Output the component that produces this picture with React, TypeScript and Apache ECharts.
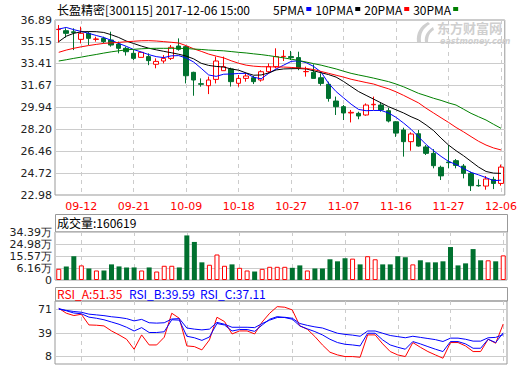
import React, { useEffect, useRef } from "react";
import * as echarts from "echarts";

// ---------- DATA ----------
const dates = [
  "09-07", "09-08", "09-11", "09-12", "09-13", "09-14", "09-15", "09-18", "09-19", "09-20",
  "09-21", "09-22", "09-25", "09-26", "09-27", "09-28", "09-29", "10-09", "10-10", "10-11",
  "10-12", "10-13", "10-16", "10-17", "10-18", "10-19", "10-20", "10-23", "10-24", "10-25",
  "10-26", "10-27", "10-30", "10-31", "11-01", "11-02", "11-03", "11-06", "11-07", "11-08",
  "11-09", "11-10", "11-13", "11-14", "11-15", "11-16", "11-17", "11-20", "11-21", "11-22",
  "11-23", "11-24", "11-27", "11-28", "11-29", "11-30", "12-01", "12-04", "12-05", "12-06",
];
const labelDates = ["09-12", "09-21", "10-09", "10-18", "10-27", "11-07", "11-16", "11-27", "12-06"];

const opens = [
  36.13, 36.04, 35.95, 35.35, 35.83, 35.35, 35.43, 35.3, 34.98, 34.64,
  34.24, 33.92, 33.98, 33.37, 33.63, 33.84, 34.82, 34.77, 32.73, 31.83,
  31.67, 32.17, 32.86, 33.0, 31.86, 32.25, 32.3, 32.12, 32.78, 33.18,
  33.98, 33.98, 33.9, 32.78, 32.73, 32.3, 31.78, 30.45, 30.0, 29.5,
  29.47, 29.34, 30.15, 30.13, 29.68, 28.8, 28.15, 27.22, 27.85, 26.8,
  26.29, 25.18, 25.6, 25.71, 25.28, 24.7, 23.74, 23.69, 24.22, 23.9,
];
const closes = [
  36.15, 35.83, 35.9, 35.83, 35.43, 35.38, 35.17, 34.9, 34.64, 34.37,
  33.84, 34.32, 33.66, 33.6, 33.84, 34.72, 34.56, 32.46, 32.12, 31.78,
  32.12, 33.63, 33.18, 31.99, 32.25, 32.44, 31.99, 32.78, 33.18, 33.98,
  34.0, 33.9, 33.05, 32.8, 32.25, 31.85, 30.66, 30.0, 29.5, 29.55,
  29.26, 30.13, 30.19, 29.74, 28.86, 27.9, 27.22, 27.83, 26.87, 26.29,
  25.31, 24.5, 25.55, 25.33, 24.7, 23.72, 23.71, 24.25, 23.9, 25.2,
];
const lows = [
  35.1, 35.5, 34.5, 35.03, 34.9, 35.17, 35.03, 34.77, 34.24, 34.06,
  33.71, 33.9, 33.3, 33.05, 33.44, 33.71, 34.45, 31.85, 30.87, 31.59,
  31.0, 31.85, 32.84, 31.6, 31.59, 31.99, 31.8, 31.99, 32.65, 33.05,
  33.63, 33.71, 32.9, 32.39, 32.25, 31.67, 30.4, 29.34, 28.94, 28.75,
  29.0, 29.28, 29.74, 29.6, 28.75, 27.6, 26.03, 26.5, 26.82, 26.16,
  25.1, 24.17, 25.1, 25.1, 24.3, 23.3, 23.64, 23.4, 23.45, 23.72,
];
const highs = [
  36.49, 36.23, 36.23, 36.36, 35.96, 35.56, 35.56, 35.96, 35.17, 34.77,
  34.5, 34.37, 34.24, 33.84, 34.1, 34.9, 35.43, 34.82, 32.78, 32.25,
  32.39, 33.98, 33.98, 33.1, 32.52, 32.65, 32.44, 32.9, 33.44, 34.64,
  34.5, 34.43, 34.37, 33.18, 33.37, 32.65, 31.99, 30.8, 30.13, 29.74,
  29.6, 30.26, 30.8, 30.34, 29.92, 28.86, 28.33, 27.96, 28.15, 26.95,
  26.63, 25.31, 26.95, 25.84, 25.44, 24.83, 24.22, 24.49, 24.43, 25.4,
];

const ma5 = [
  36.17, 36.3, 36.12, 35.98, 35.83, 35.66, 35.5, 35.28, 35.03, 34.8,
  34.54, 34.35, 34.14, 33.98, 33.9, 34.04, 34.06, 33.87, 33.55, 33.05,
  32.52, 32.41, 32.58, 32.6, 32.64, 32.65, 32.34, 32.22, 32.65, 33.0,
  33.3, 33.6, 33.65, 33.5, 33.2, 32.75, 31.85, 31.2, 30.7, 30.2,
  29.78, 29.68, 29.7, 29.7, 29.5, 29.15, 28.7, 28.2, 27.6, 27.0,
  26.5, 26.05, 25.65, 25.4, 25.08, 24.78, 24.58, 24.36, 24.12, 24.16,
];
const ma10 = [
  35.17, 35.6, 35.83, 35.95, 35.97, 35.96, 35.9, 35.72, 35.5, 35.22,
  35.02, 34.82, 34.65, 34.52, 34.4, 34.29, 34.17, 34.02, 33.8, 33.45,
  33.28, 33.2, 33.15, 33.0, 32.9, 32.68, 32.5, 32.52, 32.68, 32.92,
  33.0, 33.02, 33.03, 33.0, 32.85, 32.7, 32.55, 32.35, 32.0, 31.6,
  31.2, 30.9, 30.6, 30.3, 30.0, 29.75, 29.5, 29.2, 28.95, 28.55,
  28.1, 27.5, 26.95, 26.5, 26.1, 25.65, 25.2, 24.85, 24.72, 24.7,
];
const ma20 = [
  34.32, 34.5, 34.64, 34.76, 34.86, 34.95, 35.03, 35.07, 35.11, 35.16,
  35.2, 35.24, 35.25, 35.22, 35.17, 35.12, 35.06, 34.85, 34.6, 34.4,
  34.18, 34.02, 33.88, 33.65, 33.45, 33.3, 33.22, 33.18, 33.17, 33.16,
  33.15, 33.12, 33.08, 33.04, 32.95, 32.8, 32.65, 32.5, 32.35, 32.18,
  32.05, 31.92, 31.8, 31.6, 31.42, 31.18, 30.9, 30.6, 30.3, 29.88,
  29.5, 29.12, 28.75, 28.35, 28.0, 27.62, 27.25, 26.95, 26.72, 26.56,
];
const ma30 = [
  33.63, 33.73, 33.84, 33.94, 34.05, 34.15, 34.26, 34.36, 34.44, 34.52,
  34.56, 34.6, 34.63, 34.64, 34.64, 34.64, 34.64, 34.62, 34.58, 34.55,
  34.5, 34.47, 34.44, 34.38, 34.32, 34.27, 34.2, 34.14, 34.06, 33.97,
  33.88, 33.78, 33.67, 33.55, 33.42, 33.3, 33.15, 33.0, 32.82, 32.65,
  32.52, 32.4, 32.27, 32.13, 31.99, 31.8, 31.58, 31.32, 31.06, 30.87,
  30.67, 30.5, 30.3, 30.13, 29.8, 29.47, 29.2, 28.94, 28.6, 28.28,
];

// volume in 万 (10k shares)
const volumes = [
  5.54, 7.41, 15.4, 8.2, 5.8, 4.2, 4.2, 9.0, 7.4, 6.6,
  6.6, 4.2, 6.6, 3.4, 7.9, 7.9, 6.6, 31.7, 26.6, 10.6,
  8.7, 16.75, 7.9, 9.0, 6.3, 4.2, 3.4, 5.5, 7.1, 7.1,
  7.1, 6.3, 8.2, 4.2, 5.8, 5.8, 13.0, 11.4, 13.8, 13.5,
  9.0, 15.4, 13.0, 9.0, 9.0, 15.4, 14.6, 9.0, 12.2, 10.6,
  10.6, 11.4, 22.6, 8.2, 9.8, 21.0, 12.2, 12.2, 11.4, 16.0619,
];
const lastVolume = 160619;

const rsiA = [
  72.3, 65.7, 62.6, 64.3, 50.1, 49.7, 48.8, 42.1, 36.8, 31.0,
  17.7, 36.8, 23.4, 23.4, 33.7, 65.7, 59.0, 22.1, 21.2, 16.8,
  30.1, 60.3, 54.6, 38.1, 42.1, 42.1, 38.1, 54.0, 65.7, 74.5,
  73.7, 70.1, 48.8, 44.3, 34.6, 23.4, 13.7, 10.1, 7.9, 7.9,
  7.0, 36.8, 36.8, 24.8, 14.6, 10.1, 7.9, 26.6, 20.3, 14.6,
  10.1, 5.7, 26.6, 26.6, 22.1, 14.6, 14.6, 31.0, 25.7, 51.35,
];
const rsiB = [
  72.0, 69.0, 66.0, 65.0, 60.5, 59.0, 57.0, 54.0, 51.0, 47.0,
  42.0, 46.5, 40.0, 40.0, 41.0, 57.0, 56.5, 35.0, 33.0, 29.5,
  34.0, 52.0, 50.0, 42.0, 44.0, 44.0, 41.5, 50.0, 57.7, 61.2,
  59.9, 57.7, 48.8, 44.8, 41.2, 36.8, 31.0, 26.6, 24.3, 23.4,
  22.1, 39.0, 39.0, 30.1, 23.4, 20.3, 17.7, 27.9, 24.8, 21.2,
  17.7, 14.6, 27.9, 27.9, 24.8, 19.0, 19.0, 31.0, 26.6, 39.59,
];
const rsiC = [
  71.0, 69.5, 68.0, 67.0, 64.5, 63.5, 62.5, 61.0, 60.0, 58.5,
  55.5, 57.5, 53.0, 52.5, 53.0, 58.0, 58.5, 46.0, 44.5, 43.5,
  44.5, 53.5, 51.0, 47.0, 47.0, 47.0, 46.5, 52.0, 56.5, 60.0,
  60.3, 59.0, 52.0, 49.5, 47.5, 46.0, 42.5, 39.0, 37.5, 36.5,
  35.0, 42.0, 42.0, 39.0, 36.0, 34.5, 33.0, 35.0, 33.5, 32.0,
  30.5, 28.0, 32.5, 32.5, 31.0, 28.5, 28.5, 33.0, 33.5, 37.11,
];

const priceTicks = [22.98, 24.72, 26.46, 28.2, 29.94, 31.67, 33.41, 35.15, 36.89];
const volTickLabels = ["0", "6.16万", "15.57万", "24.98万", "34.39万"];
const volAxisMin = -3.25;
const volAxisMax = 34.39;
const volInterval = 9.41;
const rsiTicks = [8, 39, 71];

// ---------- STYLE ----------
const RED = "#ff0000";
const GREEN = "#00712f";
const BLUE = "#0000ff";
const GRID_LINE = "#cccccc";
const BORDER = "#999999";
const CJK = '"Noto Sans CJK SC", sans-serif';
const NUM = '"DejaVu Sans", sans-serif';

echarts.graphic.registerShape(
  "emLogo",
  echarts.graphic.extendPath(
    "M14 0 C6 4 2 11 3 20 L7 20 C6 12 9 6 16 2 Z M19 5 C13 9 10 14 11 20 L14 20 C14 14 16 10 20 8 Z",
    {}
  )
);

function buildOption() {
  const ohlc = dates.map((_, i) => [opens[i], closes[i], lows[i], highs[i]]);
  const isLabel = (_i: number, v: string) => labelDates.indexOf(v) >= 0;
  const xAxis = (gi: number, showLabel: boolean) => ({
    type: "category",
    gridIndex: gi,
    data: dates,
    boundaryGap: true,
    axisLine: { show: false },
    axisTick: { show: false },
    axisLabel: {
      show: showLabel,
      interval: isLabel,
      color: RED,
      fontSize: 11,
      fontFamily: NUM,
      margin: 6,
    },
    splitLine: {
      show: true,
      interval: isLabel,
      alignWithLabel: true,
      lineStyle: { color: GRID_LINE, type: [4, 4], width: 1 },
    },
  });
  const priceLabel = (v: number) => {
    let bi = 0;
    priceTicks.forEach((t, i) => {
      if (Math.abs(t - v) < Math.abs(priceTicks[bi] - v)) bi = i;
    });
    return priceTicks[bi].toFixed(2);
  };
  const volLabel = (v: number) => {
    const idx = Math.round((v - volAxisMin) / volInterval);
    return volTickLabels[Math.max(0, Math.min(volTickLabels.length - 1, idx))];
  };
  const yLabelStyle = { color: "#222", fontSize: 11, fontFamily: NUM, margin: 3 };

  const maSeries = [
    { name: "5PMA", data: ma5, color: BLUE },
    { name: "10PMA", data: ma10, color: "#000000" },
    { name: "20PMA", data: ma20, color: RED },
    { name: "30PMA", data: ma30, color: "#008000" },
  ].map((m) => ({
    name: m.name,
    type: "line",
    xAxisIndex: 0,
    yAxisIndex: 0,
    data: m.data,
    symbol: "none",
    color: m.color,
    lineStyle: { color: m.color, width: 1 },
    z: 3,
  }));

  const rsiSeries = [
    { name: "RSI_A", data: rsiA, color: RED },
    { name: "RSI_B", data: rsiB, color: BLUE },
    { name: "RSI_C", data: rsiC, color: BLUE },
  ].map((r) => ({
    name: r.name,
    type: "line",
    xAxisIndex: 2,
    yAxisIndex: 2,
    data: r.data,
    symbol: "none",
    color: r.color,
    lineStyle: { color: r.color, width: 1 },
  }));

  const volData = volumes.map((v, i) => ({
    value: v,
    itemStyle:
      closes[i] >= opens[i]
        ? { color: "#ffffff", borderColor: RED, borderWidth: 1 }
        : { color: GREEN, borderColor: GREEN, borderWidth: 0 },
  }));

  return {
    animation: false,
    backgroundColor: "#ffffff",
    legend: {
      data: ["5PMA", "10PMA", "20PMA", "30PMA"],
      left: 273,
      top: 3,
      align: "right",
      icon: "rect",
      itemWidth: 5,
      itemHeight: 4,
      itemGap: 4,
      padding: 0,
      selectedMode: false,
      textStyle: { fontSize: 12, fontFamily: CJK, color: "#000", padding: [0, -3, 0, 0] },
    },
    grid: [
      { left: 55, top: 20, width: 452, height: 175, show: true, borderColor: BORDER, borderWidth: 1 },
      { left: 55, top: 232, width: 452, height: 48, show: true, borderColor: BORDER, borderWidth: 1 },
      { left: 55, top: 301, width: 452, height: 63, show: true, borderColor: BORDER, borderWidth: 1 },
    ],
    xAxis: [xAxis(0, true), xAxis(1, false), xAxis(2, false)],
    yAxis: [
      {
        type: "value",
        gridIndex: 0,
        min: priceTicks[0],
        max: priceTicks[priceTicks.length - 1],
        interval: (priceTicks[priceTicks.length - 1] - priceTicks[0]) / (priceTicks.length - 1),
        axisLine: { show: false },
        axisTick: { show: false },
        axisLabel: { ...yLabelStyle, formatter: priceLabel },
        splitLine: { lineStyle: { color: GRID_LINE, width: 1 } },
      },
      {
        type: "value",
        gridIndex: 1,
        min: volAxisMin,
        max: volAxisMax,
        interval: volInterval,
        startValue: volAxisMin,
        axisLine: { show: false },
        axisTick: { show: false },
        axisLabel: { ...yLabelStyle, formatter: volLabel },
        splitLine: { lineStyle: { color: GRID_LINE, width: 1 } },
      },
      {
        type: "value",
        gridIndex: 2,
        min: -2,
        max: 82,
        axisLine: { show: false },
        axisTick: { show: false, customValues: rsiTicks },
        axisLabel: { ...yLabelStyle, customValues: rsiTicks },
        splitLine: { lineStyle: { color: GRID_LINE, width: 1 } },
      },
    ],
    series: [
      {
        name: "K",
        type: "candlestick",
        xAxisIndex: 0,
        yAxisIndex: 0,
        data: ohlc,
        barWidth: 5,
        itemStyle: {
          color: "#ffffff",
          color0: GREEN,
          borderColor: RED,
          borderColor0: GREEN,
          borderWidth: 1,
        },
        z: 2,
      },
      ...maSeries,
      {
        name: "VOL",
        type: "bar",
        xAxisIndex: 1,
        yAxisIndex: 1,
        data: volData,
        barWidth: 5,
      },
      ...rsiSeries,
    ],
    graphic: [
      {
        type: "text",
        left: 57,
        top: 3,
        style: { text: "长盈精密[300115] 2017-12-06 15:00", font: `12px ${CJK}`, fill: "#000" },
      },
      // watermark
      { type: "emLogo", x: 414, y: 22, scaleX: 1, scaleY: 1, style: { fill: "#cfcfcf" }, z: 0 },
      {
        type: "text",
        x: 437,
        y: 21,
        style: {
          text: "东方财富网",
          font: `bold 13px ${CJK}`,
          fill: "#cfcfcf",
          lineHeight: 13,
          verticalAlign: "top",
        },
        z: 0,
      },
      {
        type: "text",
        x: 440,
        y: 37,
        style: {
          text: "eastmoney.com",
          font: `italic bold 8px ${NUM}`,
          fill: "#cfcfcf",
          lineHeight: 8,
          verticalAlign: "top",
        },
        z: 0,
      },
      // volume header
      {
        type: "rect",
        shape: { x: 55.5, y: 214.5, width: 452, height: 17.5 },
        style: { fill: "none", stroke: BORDER, lineWidth: 1 },
      },
      {
        type: "text",
        left: 57,
        top: 216,
        style: { text: `成交量:${lastVolume}`, font: `12px ${CJK}`, fill: "#000" },
      },
      // RSI header
      {
        type: "rect",
        shape: { x: 55.5, y: 287.5, width: 452, height: 13.5 },
        style: { fill: "none", stroke: BORDER, lineWidth: 1 },
      },
      {
        type: "text",
        left: 57,
        top: 287,
        style: { text: `RSI_A:${rsiA[rsiA.length - 1].toFixed(2)}`, font: `12px ${CJK}`, fill: RED },
      },
      {
        type: "text",
        left: 129,
        top: 287,
        style: { text: `RSI_B:${rsiB[rsiB.length - 1].toFixed(2)}`, font: `12px ${CJK}`, fill: BLUE },
      },
      {
        type: "text",
        left: 200,
        top: 287,
        style: { text: `RSI_C:${rsiC[rsiC.length - 1].toFixed(2)}`, font: `12px ${CJK}`, fill: BLUE },
      },
    ],
  };
}

export default function App() {
  const ref = useRef<HTMLDivElement>(null);
  useEffect(() => {
    document.body.style.margin = "0";
    if (!ref.current) return;
    const chart = echarts.init(ref.current, null, { renderer: "svg" });
    chart.setOption(buildOption() as any);
    return () => chart.dispose();
  }, []);
  return (
    <div
      ref={ref}
      style={{ position: "fixed", left: 0, top: 0, width: 520, height: 365, background: "#fff" }}
    />
  );
}
